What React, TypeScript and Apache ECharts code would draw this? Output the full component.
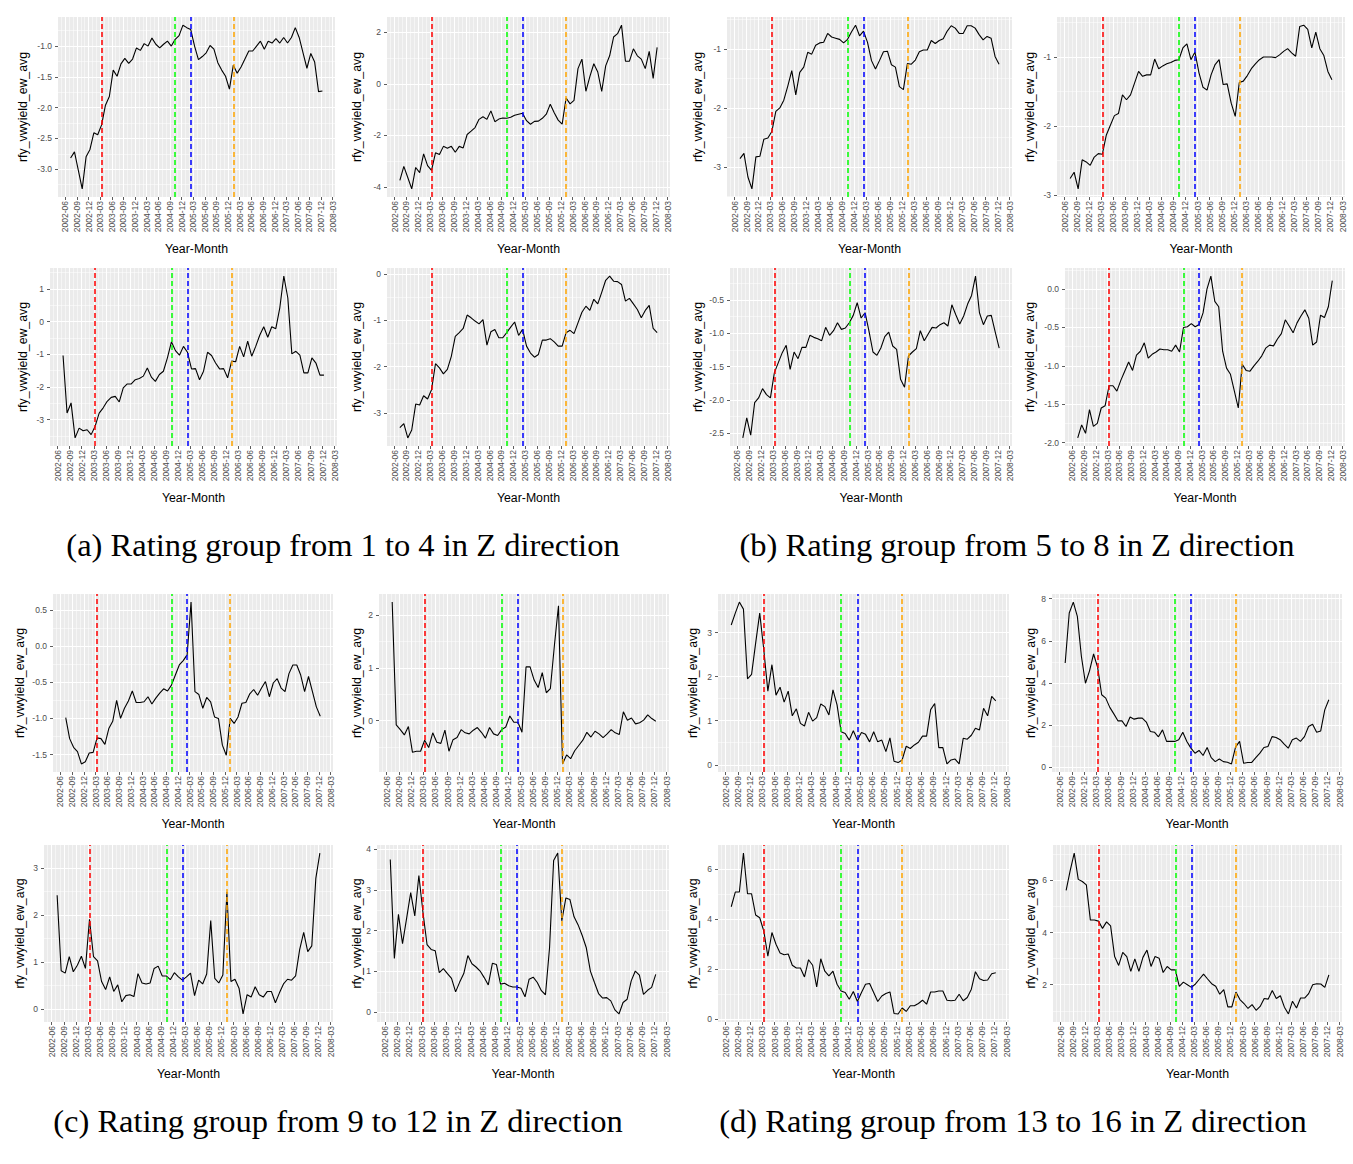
import React, { useEffect, useRef } from "react";
import * as echarts from "echarts";

// ---------- DATA ----------
const MONTHS = [
  "2002-07","2002-08","2002-09","2002-10","2002-11","2002-12",
  "2003-01","2003-02","2003-03","2003-04","2003-05","2003-06","2003-07","2003-08","2003-09","2003-10","2003-11","2003-12",
  "2004-01","2004-02","2004-03","2004-04","2004-05","2004-06","2004-07","2004-08","2004-09","2004-10","2004-11","2004-12",
  "2005-01","2005-02","2005-03","2005-04","2005-05","2005-06","2005-07","2005-08","2005-09","2005-10","2005-11","2005-12",
  "2006-01","2006-02","2006-03","2006-04","2006-05","2006-06","2006-07","2006-08","2006-09","2006-10","2006-11","2006-12",
  "2007-01","2007-02","2007-03","2007-04","2007-05","2007-06","2007-07","2007-08","2007-09","2007-10","2007-11","2007-12",
];

const X_TICK_LABELS = [
  "2002-06","2002-09","2002-12","2003-03","2003-06","2003-09","2003-12","2004-03",
  "2004-06","2004-09","2004-12","2005-03","2005-06","2005-09","2005-12","2006-03",
  "2006-06","2006-09","2006-12","2007-03","2007-06","2007-09","2007-12","2008-03",
];

const EVENT_MONTHS = ["2003-03", "2004-10", "2005-02", "2006-01"];

const GROUP_1 = [-2.82,-2.72,-3.02,-3.32,-2.80,-2.68,-2.41,-2.44,-2.28,-1.96,
  -1.82,-1.39,-1.49,-1.29,-1.20,-1.28,-1.21,-1.03,-1.07,-0.96,
  -1.00,-0.87,-0.97,-1.03,-0.97,-0.92,-1.00,-0.89,-0.83,-0.66,
  -0.70,-0.73,-1.00,-1.22,-1.17,-1.11,-0.99,-1.05,-1.27,-1.39,
  -1.49,-1.70,-1.31,-1.44,-1.34,-1.21,-1.08,-1.08,-1.00,-0.92,
  -1.05,-0.92,-0.95,-0.88,-0.95,-0.86,-0.95,-0.86,-0.70,-0.86,
  -1.11,-1.36,-1.12,-1.26,-1.74,-1.73];
const GROUP_2 = [-3.75,-3.21,-3.64,-4.08,-3.25,-3.45,-2.72,-3.18,-3.36,-2.68,
  -2.75,-2.43,-2.50,-2.43,-2.66,-2.43,-2.49,-1.97,-1.84,-1.70,
  -1.38,-1.28,-1.38,-1.05,-1.47,-1.37,-1.33,-1.34,-1.30,-1.22,
  -1.18,-1.14,-1.43,-1.57,-1.46,-1.45,-1.34,-1.18,-0.79,-1.12,
  -1.41,-1.57,-0.55,-0.78,-0.64,0.59,0.96,-0.29,0.28,0.78,
  0.46,-0.29,0.70,1.09,1.82,1.95,2.28,0.88,0.88,1.36,
  1.09,0.96,0.59,1.26,0.21,1.42];
const GROUP_3 = [-1.04,-2.80,-2.49,-3.56,-3.26,-3.34,-3.31,-3.46,-3.20,-2.80,
  -2.64,-2.44,-2.32,-2.29,-2.46,-2.03,-1.91,-1.91,-1.78,-1.74,
  -1.67,-1.42,-1.70,-1.83,-1.62,-1.52,-1.11,-0.62,-0.89,-1.03,
  -0.76,-0.94,-1.45,-1.44,-1.78,-1.52,-0.94,-1.04,-1.27,-1.45,
  -1.44,-1.72,-1.21,-1.23,-0.76,-1.08,-0.60,-1.06,-0.76,-0.42,
  -0.16,-0.48,-0.16,-0.22,0.42,1.39,0.72,-0.99,-0.91,-1.03,
  -1.57,-1.57,-1.11,-1.27,-1.64,-1.64];
const GROUP_4 = [-3.32,-3.23,-3.54,-3.37,-2.81,-2.83,-2.63,-2.70,-2.50,-1.94,
  -2.03,-2.16,-2.06,-1.78,-1.35,-1.27,-1.18,-0.89,-0.95,-1.02,
  -1.08,-0.99,-1.54,-1.25,-1.20,-1.38,-1.38,-1.27,-1.15,-1.04,
  -1.33,-1.20,-1.56,-1.71,-1.80,-1.74,-1.43,-1.43,-1.40,-1.47,
  -1.56,-1.56,-1.27,-1.22,-1.29,-1.06,-0.83,-0.70,-0.79,-0.55,
  -0.65,-0.40,-0.14,-0.05,-0.16,-0.17,-0.23,-0.59,-0.53,-0.65,
  -0.77,-0.95,-0.79,-0.68,-1.18,-1.27];
const GROUP_5 = [-2.86,-2.77,-3.17,-3.37,-2.83,-2.82,-2.53,-2.51,-2.40,-2.06,
  -2.00,-1.87,-1.63,-1.37,-1.78,-1.40,-1.31,-1.06,-1.09,-0.94,
  -0.90,-0.89,-0.74,-0.80,-0.82,-0.84,-0.90,-0.84,-0.71,-0.60,
  -0.78,-0.70,-0.89,-1.20,-1.34,-1.20,-1.05,-1.04,-1.27,-1.31,
  -1.64,-1.69,-1.25,-1.26,-1.19,-1.05,-1.02,-1.02,-0.86,-0.91,
  -0.86,-0.83,-0.70,-0.61,-0.65,-0.74,-0.74,-0.61,-0.61,-0.65,
  -0.76,-0.85,-0.79,-0.82,-1.13,-1.26];
const GROUP_6 = [-2.76,-2.67,-2.91,-2.49,-2.52,-2.57,-2.45,-2.40,-2.41,-2.13,
  -1.99,-1.85,-1.82,-1.55,-1.62,-1.55,-1.38,-1.21,-1.28,-1.26,
  -1.26,-1.03,-1.17,-1.13,-1.10,-1.08,-1.05,-1.04,-0.87,-0.81,
  -1.04,-0.93,-1.23,-1.44,-1.48,-1.26,-1.11,-1.04,-1.40,-1.39,
  -1.67,-1.86,-1.37,-1.35,-1.27,-1.17,-1.10,-1.04,-1.00,-1.00,
  -1.00,-1.01,-0.97,-0.92,-0.88,-0.94,-0.99,-0.56,-0.54,-0.60,
  -0.87,-0.64,-0.88,-0.98,-1.21,-1.33];
const GROUP_7 = [-2.57,-2.27,-2.53,-2.04,-1.97,-1.83,-1.92,-1.97,-1.59,-1.44,
  -1.29,-1.18,-1.54,-1.28,-1.38,-1.21,-1.21,-1.03,-1.06,-1.08,
  -1.11,-0.91,-1.03,-0.96,-0.84,-0.94,-0.92,-0.84,-0.73,-0.54,
  -0.77,-0.69,-0.97,-1.28,-1.33,-1.22,-1.05,-0.98,-1.19,-1.24,
  -1.69,-1.81,-1.34,-1.28,-1.23,-0.96,-1.11,-1.01,-0.91,-0.92,
  -0.87,-0.84,-0.89,-0.57,-0.72,-0.86,-0.74,-0.56,-0.43,-0.14,
  -0.69,-0.87,-0.74,-0.73,-0.98,-1.22];
const GROUP_8 = [-1.94,-1.77,-1.88,-1.57,-1.79,-1.75,-1.55,-1.52,-1.26,-1.26,
  -1.33,-1.19,-1.07,-0.95,-1.06,-0.86,-0.81,-0.70,-0.90,-0.85,
  -0.82,-0.78,-0.79,-0.79,-0.81,-0.73,-0.82,-0.50,-0.49,-0.45,
  -0.49,-0.46,-0.31,0.00,0.17,-0.16,-0.23,-0.81,-1.03,-1.11,
  -1.33,-1.55,-0.98,-1.06,-1.07,-1.00,-0.94,-0.87,-0.77,-0.73,
  -0.74,-0.65,-0.58,-0.40,-0.48,-0.57,-0.44,-0.35,-0.27,-0.38,
  -0.73,-0.69,-0.34,-0.37,-0.23,0.11];
const GROUP_9 = [-0.99,-1.28,-1.40,-1.46,-1.63,-1.60,-1.48,-1.47,-1.27,-1.28,
  -1.36,-1.14,-1.04,-0.75,-1.00,-0.86,-0.76,-0.62,-0.78,-0.78,
  -0.77,-0.70,-0.80,-0.72,-0.65,-0.59,-0.62,-0.54,-0.40,-0.26,
  -0.20,-0.12,0.61,-0.63,-0.67,-0.86,-0.71,-0.77,-0.98,-1.00,
  -1.37,-1.51,-1.00,-1.07,-0.98,-0.79,-0.78,-0.66,-0.60,-0.68,
  -0.58,-0.49,-0.70,-0.51,-0.45,-0.58,-0.63,-0.38,-0.26,-0.26,
  -0.40,-0.63,-0.42,-0.63,-0.84,-0.97];
const GROUP_10 = [2.25,-0.08,-0.17,-0.27,-0.11,-0.60,-0.58,-0.58,-0.37,-0.51,
  -0.23,-0.41,-0.43,-0.18,-0.58,-0.36,-0.32,-0.17,-0.23,-0.25,
  -0.18,-0.13,-0.22,-0.33,-0.13,-0.25,-0.28,-0.17,-0.12,0.09,
  -0.03,-0.03,-0.22,1.02,1.02,0.77,0.63,0.91,0.53,0.61,
  1.43,2.18,-0.82,-0.65,-0.72,-0.57,-0.47,-0.37,-0.22,-0.31,
  -0.20,-0.25,-0.32,-0.25,-0.17,-0.23,-0.26,0.17,0.01,0.05,
  -0.06,-0.04,0.01,0.11,0.04,-0.01];
const GROUP_11 = [2.42,0.81,0.76,1.11,0.79,0.93,1.12,0.86,1.91,1.11,
  1.02,0.58,0.41,0.68,0.37,0.51,0.15,0.28,0.30,0.26,
  0.75,0.55,0.53,0.55,0.86,0.91,0.70,0.70,0.62,0.77,
  0.68,0.61,0.68,0.76,0.28,0.61,0.53,0.74,1.88,0.65,
  0.55,0.72,2.49,0.58,0.63,0.44,-0.11,0.30,0.25,0.47,
  0.30,0.25,0.37,0.37,0.13,0.34,0.53,0.63,0.61,0.70,
  1.26,1.63,1.22,1.34,2.78,3.32];
const GROUP_12 = [3.74,1.32,2.40,1.68,2.30,2.93,2.36,3.35,2.45,1.66,
  1.54,1.51,0.97,1.07,0.95,0.83,0.50,0.74,0.95,1.39,
  1.19,1.11,1.01,0.85,0.67,1.20,1.17,0.69,0.71,0.65,
  0.62,0.62,0.59,0.38,0.81,0.86,0.73,0.53,0.43,1.58,
  3.72,3.90,2.24,2.80,2.76,2.34,2.14,1.88,1.58,1.01,
  0.73,0.46,0.35,0.36,0.28,0.06,-0.04,0.24,0.32,0.77,
  1.01,0.91,0.44,0.54,0.61,0.93];
const GROUP_13 = [3.17,3.44,3.69,3.53,1.95,2.05,2.76,3.44,2.61,1.67,
  2.27,1.58,1.76,1.42,1.67,1.11,1.27,0.94,0.88,1.19,
  0.99,1.07,1.38,1.32,1.13,1.70,1.36,0.75,0.71,0.56,
  0.77,0.56,0.73,0.69,0.52,0.75,0.52,0.56,0.30,0.61,
  0.08,0.05,0.11,0.42,0.37,0.45,0.51,0.65,0.65,1.25,
  1.39,0.39,0.39,0.02,0.11,0.13,0.02,0.60,0.58,0.67,
  0.83,0.79,1.28,1.11,1.55,1.45];
const GROUP_14 = [4.94,7.32,7.84,7.16,5.25,3.98,4.57,5.37,4.73,3.43,
  3.27,2.83,2.52,2.19,2.19,1.92,2.37,2.27,2.32,2.32,
  2.13,1.68,1.65,1.43,1.76,1.21,1.21,1.21,1.29,1.65,
  1.21,0.89,0.65,0.78,0.54,0.92,0.44,0.25,0.37,0.25,
  0.22,0.14,0.94,1.21,0.17,0.21,0.21,0.44,0.65,0.92,
  0.97,1.44,1.40,1.29,1.08,0.89,1.29,1.37,1.21,1.44,
  1.92,2.03,1.65,1.71,2.71,3.19];
const GROUP_15 = [4.49,5.08,5.08,6.64,5.01,5.01,4.16,4.05,3.52,2.51,
  3.46,2.99,2.64,2.57,2.60,2.15,2.04,2.04,1.68,2.37,
  2.15,1.28,2.41,1.91,1.72,1.91,1.39,1.12,1.06,0.79,
  1.10,0.70,1.06,1.39,1.42,1.06,0.70,0.92,1.02,1.08,
  0.22,0.20,0.44,0.30,0.53,0.53,0.62,0.75,0.59,1.08,
  1.08,1.12,1.12,0.75,0.73,0.75,0.99,0.73,0.86,1.19,
  1.89,1.61,1.54,1.56,1.81,1.85];
const GROUP_16 = [5.62,6.38,7.05,6.04,5.96,5.83,4.48,4.48,4.44,4.16,
  4.41,4.26,3.08,2.74,3.24,3.08,2.51,2.99,2.51,3.05,
  3.33,2.70,3.08,3.02,2.47,2.70,2.57,2.57,1.94,2.10,
  2.00,1.90,2.03,2.22,2.41,2.22,2.04,1.94,1.64,1.81,
  1.15,1.15,1.72,1.43,1.28,1.09,1.24,1.02,1.17,1.47,
  1.45,1.78,1.47,1.58,1.14,0.88,1.37,1.11,1.49,1.49,
  1.66,2.00,2.04,2.03,1.90,2.38];

// y tick labels (breaks) per group
const BREAKS_1 = [-3.0, -2.5, -2.0, -1.5, -1.0];
const BREAKS_2 = [-4, -2, 0, 2];
const BREAKS_3 = [-3, -2, -1, 0, 1];
const BREAKS_4 = [-3, -2, -1, 0];
const BREAKS_5 = [-3, -2, -1];
const BREAKS_6 = [-3, -2, -1];
const BREAKS_7 = [-2.5, -2.0, -1.5, -1.0, -0.5];
const BREAKS_8 = [-2.0, -1.5, -1.0, -0.5, 0.0];
const BREAKS_9 = [-1.5, -1.0, -0.5, 0.0, 0.5];
const BREAKS_10 = [0, 1, 2];
const BREAKS_11 = [0, 1, 2, 3];
const BREAKS_12 = [0, 1, 2, 3, 4];
const BREAKS_13 = [0, 1, 2, 3];
const BREAKS_14 = [0, 2, 4, 6, 8];
const BREAKS_15 = [0, 2, 4, 6];
const BREAKS_16 = [2, 4, 6];

const Y_TITLE = "rfy_vwyield_ew_avg";
const X_TITLE = "Year-Month";
const CAPTIONS = [
  "(a) Rating group from 1 to 4 in Z direction",
  "(b) Rating group from 5 to 8 in Z direction",
  "(c) Rating group from 9 to 12 in Z direction",
  "(d) Rating group from 13 to 16 in Z direction",
];

// panels in page order (row by row)
const PANEL_VALUES = [
  GROUP_1, GROUP_2, GROUP_5, GROUP_6,
  GROUP_3, GROUP_4, GROUP_7, GROUP_8,
  GROUP_9, GROUP_10, GROUP_13, GROUP_14,
  GROUP_11, GROUP_12, GROUP_15, GROUP_16,
];
const PANEL_BREAKS = [
  BREAKS_1, BREAKS_2, BREAKS_5, BREAKS_6,
  BREAKS_3, BREAKS_4, BREAKS_7, BREAKS_8,
  BREAKS_9, BREAKS_10, BREAKS_13, BREAKS_14,
  BREAKS_11, BREAKS_12, BREAKS_15, BREAKS_16,
];

// ---------- LAYOUT / STYLE ----------
const ROWS = [
  { top: 17, bottom: 197 },
  { top: 268, bottom: 446 },
  { top: 594, bottom: 772 },
  { top: 845, bottom: 1022 },
];
const COLS_BY_PANEL = [
  [58, 335], [387, 670], [727, 1012], [1057, 1345],
  [50, 337], [387, 670], [730, 1012], [1065, 1345],
  [53, 333], [379, 669], [718, 1009], [1052, 1342],
  [44, 333], [377, 669], [718, 1009], [1053, 1342],
];
const Y_TITLE_X = [
  23, 357, 698, 1030,
  23, 357, 698, 1030,
  20, 357, 693, 1031,
  20, 357, 693, 1031,
];
const CAPTION_POS = [
  [343, 545], [1017, 545], [338, 1121], [1013, 1121],
];
const EVENT_COLORS = ["#FF0000", "#00FF00", "#0000FF", "#FFA500"];
const SANS = "Liberation Sans, Arial, sans-serif";
const SERIF = "Liberation Serif, Times New Roman, serif";
const DATE_SHIFT = 0.35;

function monthPos(s: string): number {
  const [y, m] = s.split("-").map(Number);
  return (y - 2002) * 12 + (m - 6);
}

export default function App() {
  const ref = useRef<HTMLDivElement>(null);
  useEffect(() => {
    const chart = echarts.init(ref.current!, null, { renderer: "svg" });
    const xs = MONTHS.map((m) => monthPos(m) + DATE_SHIFT);
    const majorX = X_TICK_LABELS.map(monthPos);
    const xSpan = xs[xs.length - 1] - xs[0];
    const xMin = xs[0] - 0.05 * xSpan;
    const xMax = xs[xs.length - 1] + 0.05 * xSpan;
    const minorX: number[] = [];
    for (let v = Math.ceil(xMin); v <= Math.floor(xMax); v++) {
      if (majorX.indexOf(v) < 0) minorX.push(v);
    }

    const grids: any[] = [];
    const xAxes: any[] = [];
    const yAxes: any[] = [];
    const series: any[] = [];
    const graphics: any[] = [];

    PANEL_VALUES.forEach((vals, i) => {
      const row = ROWS[Math.floor(i / 4)];
      const [l, r] = COLS_BY_PANEL[i];
      const t = row.top, b = row.bottom;
      grids.push({
        left: l, top: t, width: r - l, height: b - t,
        show: true, backgroundColor: "#EBEBEB", borderWidth: 0,
        containLabel: false, outerBoundsMode: "none",
      });
      const breaks = PANEL_BREAKS[i];
      const step = breaks[1] - breaks[0];
      const dec = step < 1 ? 1 : 0;
      const vmin = Math.min(...vals), vmax = Math.max(...vals);
      const ySpan = vmax - vmin;
      const yMin = vmin - 0.05 * ySpan, yMax = vmax + 0.05 * ySpan;
      const minorY: number[] = [];
      for (let k = -1; k < breaks.length; k++) {
        const mv = breaks[0] + (k + 0.5) * step;
        if (mv >= yMin && mv <= yMax) minorY.push(mv);
      }

      const xi = xAxes.length;
      xAxes.push({
        type: "value", gridIndex: i, min: xMin, max: xMax, position: "bottom",
        axisLine: { show: false, onZero: false },
        axisTick: { show: true, customValues: majorX, length: 3, lineStyle: { color: "#333333", width: 0.8 } },
        axisLabel: {
          show: true, customValues: majorX, rotate: 90, margin: 4, fontSize: 8.5,
          color: "#4D4D4D", fontFamily: SANS, hideOverlap: false,
          formatter: (v: number) => X_TICK_LABELS[majorX.indexOf(Math.round(v))] || "",
        },
        splitLine: { show: true, lineStyle: { color: "#FFFFFF", width: 1 } },
      });
      xAxes.push({
        type: "value", gridIndex: i, min: xMin, max: xMax, position: "top",
        axisLine: { show: false, onZero: false },
        axisTick: { show: false, customValues: minorX },
        axisLabel: { show: false },
        splitLine: { show: true, lineStyle: { color: "#FFFFFF", width: 0.5 } },
      });
      const yi = yAxes.length;
      yAxes.push({
        type: "value", gridIndex: i, min: yMin, max: yMax, position: "left",
        axisLine: { show: false, onZero: false },
        axisTick: { show: true, customValues: breaks, length: 3, lineStyle: { color: "#333333", width: 0.8 } },
        axisLabel: {
          show: true, customValues: breaks, margin: 6, fontSize: 8.5, color: "#4D4D4D",
          fontFamily: SANS, hideOverlap: false,
          formatter: (v: number) => v.toFixed(dec),
        },
        splitLine: { show: true, lineStyle: { color: "#FFFFFF", width: 1 } },
      });
      yAxes.push({
        type: "value", gridIndex: i, min: yMin, max: yMax, position: "right",
        axisLine: { show: false, onZero: false },
        axisTick: { show: false, customValues: minorY },
        axisLabel: { show: false },
        splitLine: { show: true, lineStyle: { color: "#FFFFFF", width: 0.5 } },
      });

      series.push({
        type: "line",
        xAxisIndex: xi, yAxisIndex: yi,
        data: vals.map((v, k) => [xs[k], v]),
        showSymbol: false, symbol: "none",
        lineStyle: { color: "#000000", width: 1.1 },
        silent: true, z: 3,
        markLine: {
          silent: true, symbol: ["none", "none"], label: { show: false },
          animation: false,
          data: EVENT_MONTHS.map((m, j) => ({
            xAxis: monthPos(m) + DATE_SHIFT,
            lineStyle: { color: EVENT_COLORS[j], type: [5, 3], width: 1.5, opacity: 1 },
          })),
        },
      });

      graphics.push({
        type: "text", silent: true,
        x: Y_TITLE_X[i], y: (t + b) / 2, rotation: Math.PI / 2,
        style: {
          text: Y_TITLE, fill: "#000000", fontSize: 12.3, fontFamily: SANS,
          align: "center", verticalAlign: "middle", textAlign: "center", textVerticalAlign: "middle",
        },
      });
      graphics.push({
        type: "text", silent: true,
        x: (l + r) / 2, y: b + 52,
        style: {
          text: X_TITLE, fill: "#000000", fontSize: 12.3, fontFamily: SANS,
          align: "center", verticalAlign: "middle", textAlign: "center", textVerticalAlign: "middle",
        },
      });
    });

    CAPTIONS.forEach((c, j) => {
      graphics.push({
        type: "text", silent: true,
        x: CAPTION_POS[j][0], y: CAPTION_POS[j][1],
        style: {
          text: c, fill: "#000000", fontSize: 32.5, fontFamily: SERIF,
          align: "center", verticalAlign: "middle", textAlign: "center", textVerticalAlign: "middle",
        },
      });
    });

    chart.setOption({
      animation: false,
      backgroundColor: "#FFFFFF",
      grid: grids,
      xAxis: xAxes,
      yAxis: yAxes,
      series,
      graphic: graphics,
    });
    return () => chart.dispose();
  }, []);
  return (
    <div
      ref={ref}
      style={{ position: "absolute", left: 0, top: 0, width: 1353, height: 1164, background: "#fff" }}
    />
  );
}
